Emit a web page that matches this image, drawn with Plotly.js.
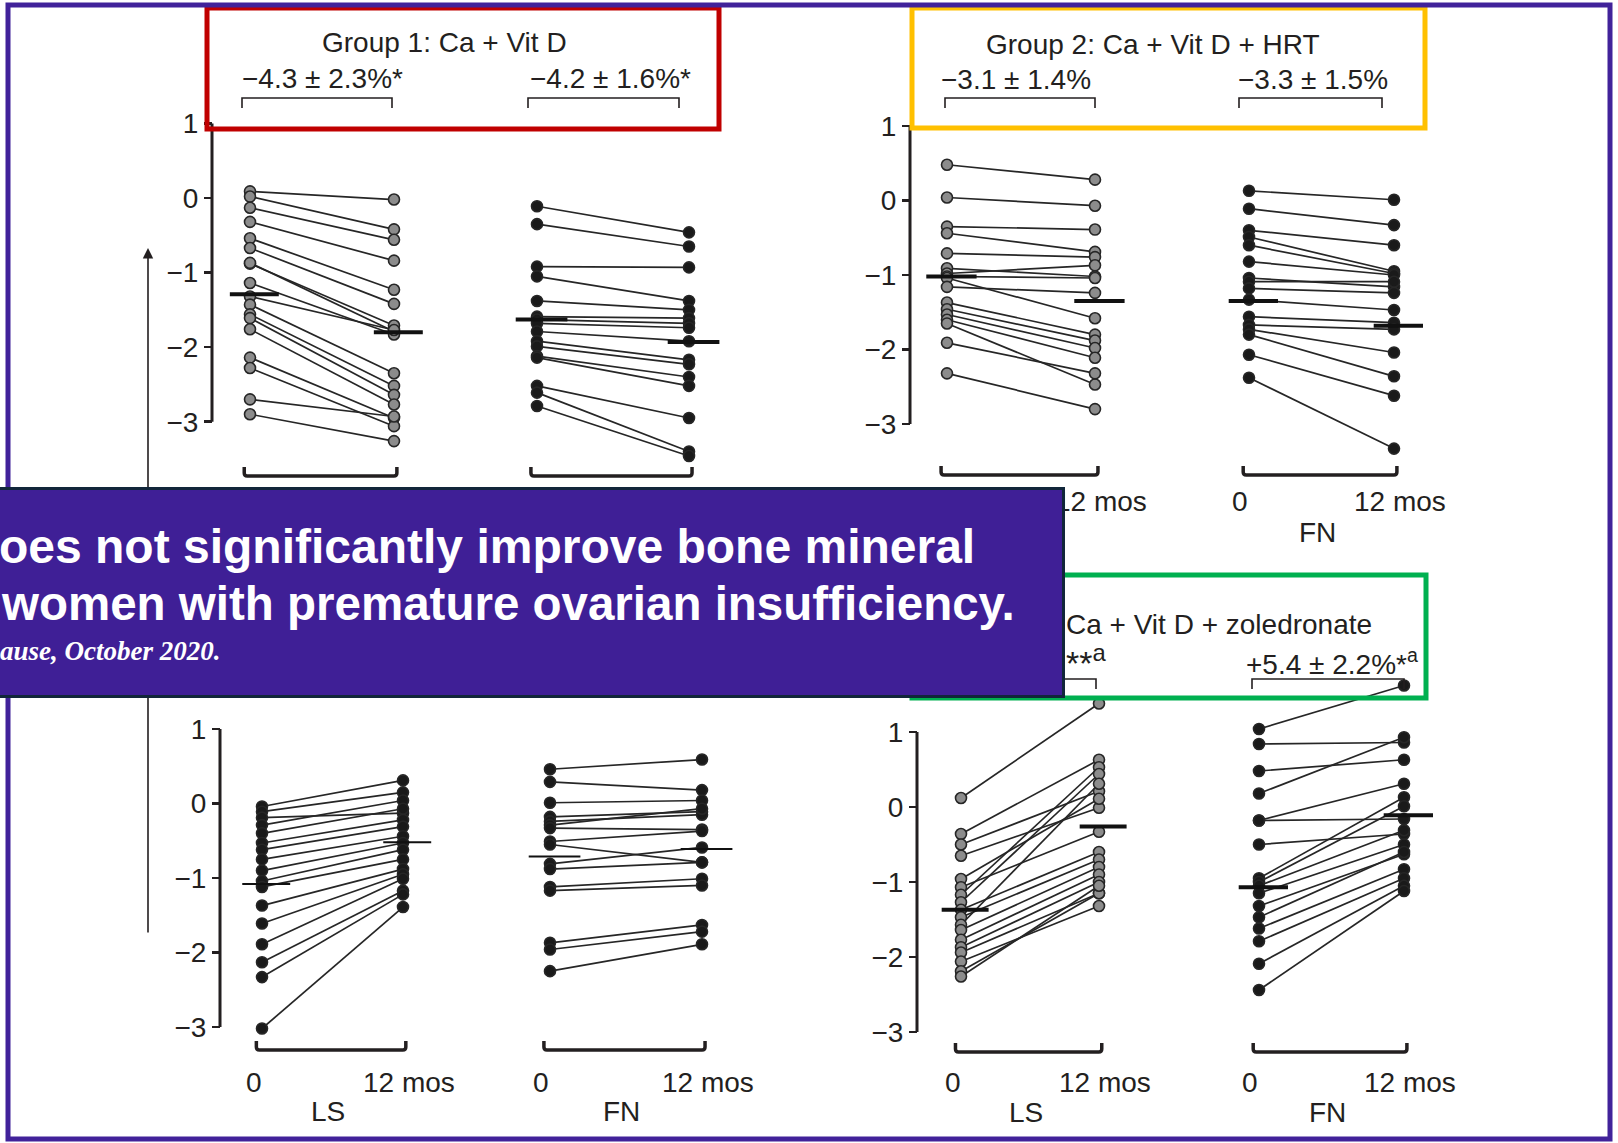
<!DOCTYPE html>
<html><head><meta charset="utf-8">
<script src="https://cdn.plot.ly/plotly-3.0.1.min.js"></script>
<style>html,body{margin:0;padding:0;background:#fff;}#chart{width:1618px;height:1143px;}</style>
</head><body><div id="chart"></div>
<script>
// ---------------- data ----------------
const timeLabels = ['0', '12 mos'];
const siteLabels = ['LS', 'FN'];
const yTickVals = [-3, -2, -1, 0, 1];
const yTickText = ['\u22123', '\u22122', '\u22121', '0', '1'];
const groupTitles = ['Group 1: Ca + Vit D', 'Group 2: Ca + Vit D + HRT', 'Ca + Vit D + zoledronate'];
const deltaLabels = ['\u22124.3 \u00b1 2.3%*', '\u22124.2 \u00b1 1.6%*', '\u22123.1 \u00b1 1.4%', '\u22123.3 \u00b1 1.5%', '**<sup>a</sup>', '+5.4 \u00b1 2.2%*<sup>a</sup>'];
const bannerLines = ['oes not significantly improve bone mineral', 'women with premature ovarian insufficiency.', 'ause, October 2020.'];

// Group 1 (Ca + Vit D)
const g1LS_base = [0.09, 0.02, -0.13, -0.32, -0.54, -0.67, -0.88, -0.87, -1.14, -1.32, -1.43, -1.56, -1.61, -1.76, -2.14, -2.28, -2.70, -2.90];
const g1LS_12m  = [-0.02, -0.42, -0.56, -0.84, -1.23, -1.42, -1.71, -1.79, -1.83, -1.77, -2.35, -2.52, -2.64, -2.77, -2.95, -3.06, -2.93, -3.26];
const g1LS_mean = [-1.29, -1.80];
const g1FN_base = [-0.11, -0.35, -0.92, -1.05, -1.38, -1.59, -1.63, -1.68, -1.79, -1.92, -1.99, -2.12, -2.14, -2.52, -2.61, -2.79];
const g1FN_12m  = [-0.46, -0.65, -0.93, -1.38, -1.50, -1.61, -1.68, -1.74, -1.92, -2.17, -2.23, -2.40, -2.52, -2.95, -3.40, -3.46];
const g1FN_mean = [-1.63, -1.93];
// Group 2 (Ca + Vit D + HRT)
const g2LS_base = [0.48, 0.04, -0.35, -0.44, -0.71, -0.91, -0.98, -1.02, -1.04, -1.16, -1.37, -1.46, -1.53, -1.60, -1.65, -1.91, -2.32];
const g2LS_12m  = [0.28, -0.07, -0.39, -0.69, -0.76, -1.02, -0.87, -1.04, -1.58, -1.24, -1.80, -1.88, -1.98, -2.11, -2.47, -2.32, -2.80];
const g2LS_mean = [-1.02, -1.35];
const g2FN_base = [0.13, -0.11, -0.40, -0.49, -0.60, -0.82, -1.04, -1.09, -1.18, -1.33, -1.56, -1.67, -1.73, -1.80, -2.07, -2.38];
const g2FN_12m  = [0.01, -0.33, -0.60, -0.95, -0.98, -1.00, -1.16, -1.09, -1.24, -1.47, -1.64, -1.73, -2.04, -2.36, -2.62, -3.33];
const g2FN_mean = [-1.35, -1.68];
// Group 3 (bottom left)
const g3LS_base = [-0.04, -0.11, -0.19, -0.29, -0.40, -0.53, -0.62, -0.75, -0.90, -1.04, -1.12, -1.37, -1.61, -1.89, -2.13, -2.33, -3.02];
const g3LS_12m  = [0.31, 0.15, -0.13, 0.04, -0.07, -0.22, -0.31, -0.44, -0.53, -0.62, -0.75, -0.88, -0.95, -1.01, -1.17, -1.22, -1.39];
const g3LS_mean = [-1.08, -0.52];
const g3FN_base = [0.46, 0.29, 0.01, -0.18, -0.24, -0.29, -0.33, -0.51, -0.55, -0.81, -0.88, -1.12, -1.17, -1.87, -1.96, -2.25];
const g3FN_12m  = [0.59, 0.18, 0.04, -0.11, -0.15, -0.07, -0.35, -0.37, -0.79, -0.59, -0.79, -1.01, -1.10, -1.63, -1.72, -1.89];
const g3FN_mean = [-0.71, -0.61];
// Group 4 (Ca + Vit D + zoledronate)
const g4LS_base = [0.12, -0.36, -0.50, -0.65, -0.96, -1.07, -1.17, -1.27, -1.37, -1.47, -1.57, -1.64, -1.77, -1.87, -1.94, -2.06, -2.19, -2.26];
const g4LS_12m  = [1.38, 0.63, 0.21, -0.01, 0.11, -0.33, 0.53, 0.44, -0.60, -0.70, 0.31, -0.80, -0.90, -1.00, -1.15, -1.32, -1.15, -1.05];
const g4LS_mean = [-1.37, -0.26];
const g4FN_base = [1.04, 0.84, 0.48, 0.18, -0.18, -0.18, -0.50, -0.95, -1.00, -1.05, -1.15, -1.32, -1.47, -1.62, -1.79, -2.09, -2.44];
const g4FN_12m  = [1.62, 0.86, 0.63, 0.93, 0.31, -0.16, -0.36, 0.13, 0.01, -0.31, -0.50, -0.63, -0.60, -0.83, -0.95, -1.05, -1.12];
const g4FN_mean = [-1.07, -0.11];

// ---------------- geometry / styles ----------------
const W = 1618, H = 1143;
const PX = v => v / W, PY = v => 1 - v / H;
const FONT = 'Liberation Sans, Arial, Helvetica, sans-serif';
const INK = '#231f20';
const BANNER = {x0: -20, x1: 1065, y0: 487, y1: 698};
const underBanner = (x, y, halfW) => x + halfW < BANNER.x1 && y > BANNER.y0 && y < BANNER.y1;

const groups = [
  {axisX: 212, y1: 123.5, ym3: 421.7, bracketY: 476, labelY: 500, siteY: 532},
  {axisX: 910, y1: 126, ym3: 424, bracketY: 475, labelY: 501, siteY: 532},
  {axisX: 220, y1: 729, ym3: 1027, bracketY: 1050, labelY: 1082, siteY: 1111},
  {axisX: 917, y1: 732, ym3: 1032, bracketY: 1052, labelY: 1082, siteY: 1112}
];
const panels = [
  {g: 0, site: 0, p0: 250, p1: 394, base: g1LS_base, fol: g1LS_12m, mean: g1LS_mean, gray: true, mw: 4},
  {g: 0, site: 1, p0: 537, p1: 689, base: g1FN_base, fol: g1FN_12m, mean: g1FN_mean, gray: false, mw: 4},
  {g: 1, site: 0, p0: 947, p1: 1095, base: g2LS_base, fol: g2LS_12m, mean: g2LS_mean, gray: true, mw: 4},
  {g: 1, site: 1, p0: 1249, p1: 1394, base: g2FN_base, fol: g2FN_12m, mean: g2FN_mean, gray: false, mw: 4},
  {g: 2, site: 0, p0: 262, p1: 403, base: g3LS_base, fol: g3LS_12m, mean: g3LS_mean, gray: false, mw: 2},
  {g: 2, site: 1, p0: 550, p1: 702, base: g3FN_base, fol: g3FN_12m, mean: g3FN_mean, gray: false, mw: 2},
  {g: 3, site: 0, p0: 961, p1: 1099, base: g4LS_base, fol: g4LS_12m, mean: g4LS_mean, gray: true, mw: 4},
  {g: 3, site: 1, p0: 1259, p1: 1404, base: g4FN_base, fol: g4FN_12m, mean: g4FN_mean, gray: false, mw: 4}
];

const layout = {
  width: W, height: H, margin: {l: 0, r: 0, t: 0, b: 0},
  paper_bgcolor: '#ffffff', plot_bgcolor: 'rgba(0,0,0,0)',
  showlegend: false, hovermode: false,
  shapes: [], annotations: []
};
const traces = [];

function bracketUp(x0, x1, y, h, r) {
  return `M ${PX(x0)},${PY(y - h)} L ${PX(x0)},${PY(y - r)} Q ${PX(x0)},${PY(y)} ${PX(x0 + r)},${PY(y)} ` +
         `L ${PX(x1 - r)},${PY(y)} Q ${PX(x1)},${PY(y)} ${PX(x1)},${PY(y - r)} L ${PX(x1)},${PY(y - h)}`;
}
function bracketDown(x0, x1, y, h) {
  return `M ${PX(x0)},${PY(y + h)} L ${PX(x0)},${PY(y)} L ${PX(x1)},${PY(y)} L ${PX(x1)},${PY(y + h)}`;
}

// y axes
groups.forEach((g, k) => {
  const u = (g.ym3 - g.y1) / 4;
  const name = 'yaxis' + (k ? k + 1 : '');
  layout[name] = {
    domain: [PY(g.ym3 + 0.8 * u), PY(g.y1 - 0.8 * u)], range: [-3.8, 1.8],
    anchor: 'free', position: PX(g.axisX), side: 'left',
    tickmode: 'array', tickvals: yTickVals, ticktext: yTickText,
    ticks: 'outside', ticklen: 8, tickwidth: 2.5, tickcolor: INK,
    showline: false, showgrid: false, zeroline: false, fixedrange: true,
    tickfont: {family: FONT, size: 28, color: INK}
  };
  layout.shapes.push({type: 'line', xref: 'paper', yref: 'y' + (k ? k + 1 : ''),
    x0: PX(g.axisX), x1: PX(g.axisX), y0: -3, y1: 1, line: {color: INK, width: 3}});
});

// panels
panels.forEach((p, i) => {
  const g = groups[p.g];
  const u = p.p1 - p.p0;
  const xid = 'x' + (i ? i + 1 : ''), yid = 'y' + (p.g ? p.g + 1 : '');
  layout['xaxis' + (i ? i + 1 : '')] = {
    domain: [PX(p.p0 - 0.35 * u), PX(p.p1 + 0.35 * u)], range: [-0.35, 1.35],
    visible: false, fixedrange: true, anchor: yid
  };
  const xs = [], ys = [];
  p.base.forEach((b, j) => { xs.push(0, 1, null); ys.push(b, p.fol[j], null); });
  traces.push({
    type: 'scatter', mode: 'lines+markers', x: xs, y: ys, xaxis: xid, yaxis: yid,
    line: {color: '#262626', width: 1.7}, cliponaxis: false, hoverinfo: 'skip',
    marker: {size: 11, color: p.gray ? '#8c8c8c' : '#1a1a1a', line: {color: '#262626', width: 1.6}}
  });
  traces.push({
    type: 'scatter', mode: 'lines', xaxis: xid, yaxis: yid, hoverinfo: 'skip', cliponaxis: false,
    x: [-0.14, 0.2, null, 0.86, 1.2], y: [p.mean[0], p.mean[0], null, p.mean[1], p.mean[1]],
    line: {color: '#111', width: p.mw}
  });
  // bottom bracket
  layout.shapes.push({type: 'path', xref: 'paper', yref: 'paper',
    path: bracketUp(p.p0 - 0.04 * u, p.p1 + 0.02 * u, g.bracketY, 9, 3),
    line: {color: INK, width: 3.5}});
  // time labels and site label (those entirely hidden under the banner are not drawn)
  [-0.06, 1.04].forEach((xv, t) => {
    const cx = p.p0 + xv * u;
    if (underBanner(cx, g.labelY, t ? 48 : 8)) return;
    layout.annotations.push({
      xref: xid, yref: 'paper', x: xv, y: PY(g.labelY), xanchor: 'center', yanchor: 'middle',
      text: timeLabels[t], showarrow: false, font: {family: FONT, size: 28, color: INK}});
  });
  if (!underBanner(p.p0 + 0.47 * u, g.siteY, 20)) {
    layout.annotations.push({xref: xid, yref: 'paper', x: 0.47, y: PY(g.siteY), xanchor: 'center', yanchor: 'middle',
      text: siteLabels[p.site], showarrow: false, font: {family: FONT, size: 28, color: INK}});
  }
});

// small brackets under the change labels
[[242, 392, 98], [528, 679, 98], [945, 1095, 98], [1239, 1382, 98], [960, 1096, 679], [1252, 1404, 679]].forEach(b =>
  layout.shapes.push({type: 'path', xref: 'paper', yref: 'paper', path: bracketDown(b[0], b[1], b[2], 10),
    line: {color: INK, width: 1.6}}));

// coloured boxes and frame
[[207, 8, 719, 129, '#C00000'], [912, 8, 1425, 128, '#FFC000'], [912, 575, 1426, 698, '#00B050']].forEach(r =>
  layout.shapes.push({type: 'rect', xref: 'paper', yref: 'paper', x0: PX(r[0]), y0: PY(r[1]), x1: PX(r[2]), y1: PY(r[3]),
    line: {color: r[4], width: 5}, fillcolor: 'rgba(0,0,0,0)'}));
layout.shapes.push({type: 'rect', xref: 'paper', yref: 'paper', x0: PX(8), y0: PY(5), x1: PX(1610), y1: PY(1139),
  line: {color: '#41229A', width: 5}, fillcolor: 'rgba(0,0,0,0)'});

// titles and change labels
const txt = (x, y, text, anchor, size) => ({xref: 'paper', yref: 'paper', x: PX(x), y: PY(y), xanchor: anchor || 'center',
  yanchor: 'middle', text: text, showarrow: false, font: {family: FONT, size: size || 28, color: INK}});
layout.annotations.push(txt(444, 43, groupTitles[0]));
layout.annotations.push(txt(1153, 44, groupTitles[1]));
layout.annotations.push(txt(1064, 624, groupTitles[2], 'left'));
layout.annotations.push(txt(322, 78, deltaLabels[0]));
layout.annotations.push(txt(610, 78, deltaLabels[1]));
layout.annotations.push(txt(1016, 80, deltaLabels[2]));
layout.annotations.push(txt(1313, 80, deltaLabels[3]));
layout.annotations.push(txt(1064, 660, deltaLabels[4], 'left', 34));
layout.annotations.push(txt(1332, 662, deltaLabels[5]));

// vertical arrow on the left
layout.annotations.push({xref: 'paper', yref: 'paper', x: PX(148), y: PY(248), ax: 0, ay: 686, text: '',
  showarrow: true, arrowhead: 2, arrowsize: 1.3, arrowwidth: 1.6, arrowcolor: INK});

// banner (drawn on top)
layout.annotations.push({xref: 'paper', yref: 'paper', x: PX(BANNER.x1), y: PY(BANNER.y0), xanchor: 'right', yanchor: 'top',
  text: ' ', showarrow: false, width: BANNER.x1 - BANNER.x0 - 6, height: BANNER.y1 - BANNER.y0 - 6,
  bgcolor: '#3F1F96', bordercolor: '#11263a', borderwidth: 3, borderpad: 0});
layout.annotations.push({xref: 'paper', yref: 'paper', x: PX(-3), y: PY(546), xanchor: 'left', yanchor: 'middle',
  text: '<b>' + bannerLines[0] + '</b>', showarrow: false, font: {family: FONT, size: 48, color: '#ffffff'}});
layout.annotations.push({xref: 'paper', yref: 'paper', x: PX(-1), y: PY(603), xanchor: 'left', yanchor: 'middle',
  text: '<b>' + bannerLines[1] + '</b>', showarrow: false, font: {family: FONT, size: 47.5, color: '#ffffff'}});
layout.annotations.push({xref: 'paper', yref: 'paper', x: PX(-2), y: PY(651), xanchor: 'left', yanchor: 'middle',
  text: '<b><i>' + bannerLines[2] + '</i></b>', showarrow: false,
  font: {family: 'Liberation Serif, Times New Roman, serif', size: 27, color: '#ffffff'}});

Plotly.newPlot('chart', traces, layout, {displayModeBar: false, staticPlot: true});
</script></body></html>
